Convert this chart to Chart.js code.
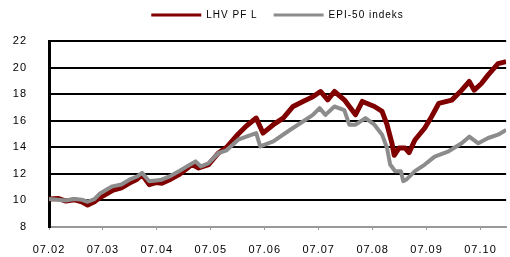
<!DOCTYPE html>
<html lang="et">
<head>
<meta charset="utf-8">
<title>LHV PF L vs EPI-50</title>
<script src="https://cdn.jsdelivr.net/npm/chart.js"></script>
<style>
  html, body { margin: 0; padding: 0; background: #fff; }
  #wrap { width: 510px; height: 257px; }
</style>
</head>
<body>
<div id="wrap"><canvas id="graafik"></canvas></div>
<script>
// kuud alates juulist 2002
let lhvKuud = [0, 2.0, 3.75, 5.7, 7.3, 8.6, 10.1, 11.25, 14.1, 16.1, 17.9, 19.6, 20.7, 22.3, 23.8, 25.1, 27.1, 28.9, 31.8, 33.3,
  35.5, 37.7, 39.5, 42.1, 43.9, 46.1, 47.6, 49.9, 52.1, 54.3, 56.5, 58.7, 60.4, 62.0, 63.5, 65.7, 68.2, 69.7, 72.4, 74.1,
  75.2, 76.3, 76.8, 77.9, 79.2, 80.1, 81.4, 83.6, 85.1, 86.7, 89.6, 91.8, 93.5, 94.6, 96.2, 97.7, 99.9, 101.7];
let lhv = [10.1, 10.15, 9.95, 10.05, 9.9, 9.65, 9.9, 10.2, 10.75, 10.95, 11.3, 11.6, 11.94, 11.19, 11.35, 11.3, 11.6, 11.94, 12.7, 12.44,
  12.7, 13.57, 14.0, 15.0, 15.6, 16.2, 15.07, 15.7, 16.2, 17.07, 17.45, 17.8, 18.2, 17.57, 18.2, 17.57, 16.45, 17.45, 17.07, 16.7,
  15.7, 14.3, 13.4, 13.95, 13.95, 13.6, 14.55, 15.45, 16.3, 17.3, 17.55, 18.3, 18.95, 18.3, 18.8, 19.45, 20.3, 20.45];
let epiKuud = [0, 2.0, 3.75, 5.7, 7.3, 8.6, 10.1, 11.25, 14.1, 16.1, 17.9, 19.6, 20.7, 22.3, 23.8, 25.1, 27.1, 28.9, 32.6, 33.8,
  35.5, 37.7, 39.5, 42.1, 43.9, 46.1, 47.0, 49.9, 53.6, 56.5, 58.7, 60.2, 61.5, 63.5, 65.7, 66.8, 68.2, 70.4, 72.4, 74.1,
  75.2, 75.9, 77.0, 78.3, 78.8, 79.6, 81.4, 83.6, 85.8, 88.9, 91.8, 93.5, 95.5, 97.7, 99.9, 101.7];
let epi = [10.1, 10.05, 10.0, 10.1, 10.05, 9.9, 10.1, 10.5, 11.06, 11.2, 11.56, 11.8, 12.07, 11.44, 11.5, 11.56, 11.85, 12.2, 12.94, 12.56,
  12.8, 13.57, 13.77, 14.57, 14.8, 15.07, 14.06, 14.44, 15.3, 15.94, 16.44, 16.95, 16.44, 17.07, 16.8, 15.7, 15.7, 16.2, 15.7, 14.95,
  13.95, 12.7, 12.2, 12.2, 11.45, 11.6, 12.2, 12.7, 13.3, 13.7, 14.3, 14.8, 14.3, 14.7, 14.95, 15.3];
let tickKuud = [0, 12, 24, 36, 48, 60, 72, 84, 96];
let tickSildid = ['07.02', '07.03', '07.04', '07.05', '07.06', '07.07', '07.08', '07.09', '07.10'];

function punktid(kuud, vaartused) {
  return kuud.map((k, i) => ({ x: k, y: vaartused[i] }));
}

// tähevahe nagu originaalis + legendi kõrgus
const abi = {
  id: 'abi',
  afterInit(chart) {
    const algne = chart.legend.fit;
    chart.legend.fit = function () { algne.call(this); this.height = 47; };
  },
  beforeLayout(chart) { chart.ctx.letterSpacing = '1px'; },
  beforeDraw(chart) { chart.ctx.letterSpacing = '1px'; }
};

new Chart(document.getElementById('graafik'), {
  type: 'line',
  data: {
    datasets: [
      { label: 'LHV PF L', data: punktid(lhvKuud, lhv), borderColor: '#800000', backgroundColor: '#800000', borderWidth: 5, order: 1 },
      { label: 'EPI-50 indeks', data: punktid(epiKuud, epi), borderColor: '#8c8c8c', backgroundColor: '#8c8c8c', borderWidth: 4, order: 0 }
    ]
  },
  options: {
    responsive: true,
    maintainAspectRatio: false,
    animation: false,
    elements: { point: { radius: 0 }, line: { tension: 0, borderJoinStyle: 'round' } },
    layout: { padding: { left: 0, right: 0, top: -6, bottom: 0 } },
    plugins: {
      tooltip: { enabled: false },
      legend: {
        fullSize: false,
        labels: {
          usePointStyle: true,
          pointStyle: 'line',
          pointStyleWidth: 50,
          padding: 16,
          color: '#000',
          font: { family: 'Liberation Sans', size: 10 },
          generateLabels(chart) {
            return chart.data.datasets.map((ds, i) => ({
              text: ds.label, strokeStyle: ds.borderColor, fillStyle: ds.borderColor,
              lineWidth: 3, pointStyle: 'line', datasetIndex: i, hidden: false
            }));
          }
        }
      }
    },
    scales: {
      x: {
        type: 'linear',
        min: 0,
        max: 101.7,
        afterBuildTicks(scale) { scale.ticks = tickKuud.map(v => ({ value: v })); },
        afterFit(scale) { scale.height = 30; },
        ticks: {
          callback(v) { return tickSildid[tickKuud.indexOf(v)]; },
          color: '#000',
          padding: 13,
          maxRotation: 0,
          font: { family: 'Liberation Sans', size: 11 }
        },
        grid: { drawOnChartArea: false, color: '#999', lineWidth: 1, tickLength: 3 },
        border: { color: '#999', width: 2 }
      },
      y: {
        min: 8,
        max: 22,
        afterFit(scale) { scale.width = 49; },
        ticks: {
          stepSize: 2,
          color: '#000',
          padding: 22,
          font: { family: 'Liberation Sans', size: 11 }
        },
        grid: {
          drawTicks: false,
          color: ctx => ctx.tick && ctx.tick.value === 8 ? 'rgba(0,0,0,0)' : '#000',
          lineWidth: 2
        },
        border: { color: '#000', width: 3 }
      }
    }
  },
  plugins: [abi]
});
</script>
</body>
</html>
